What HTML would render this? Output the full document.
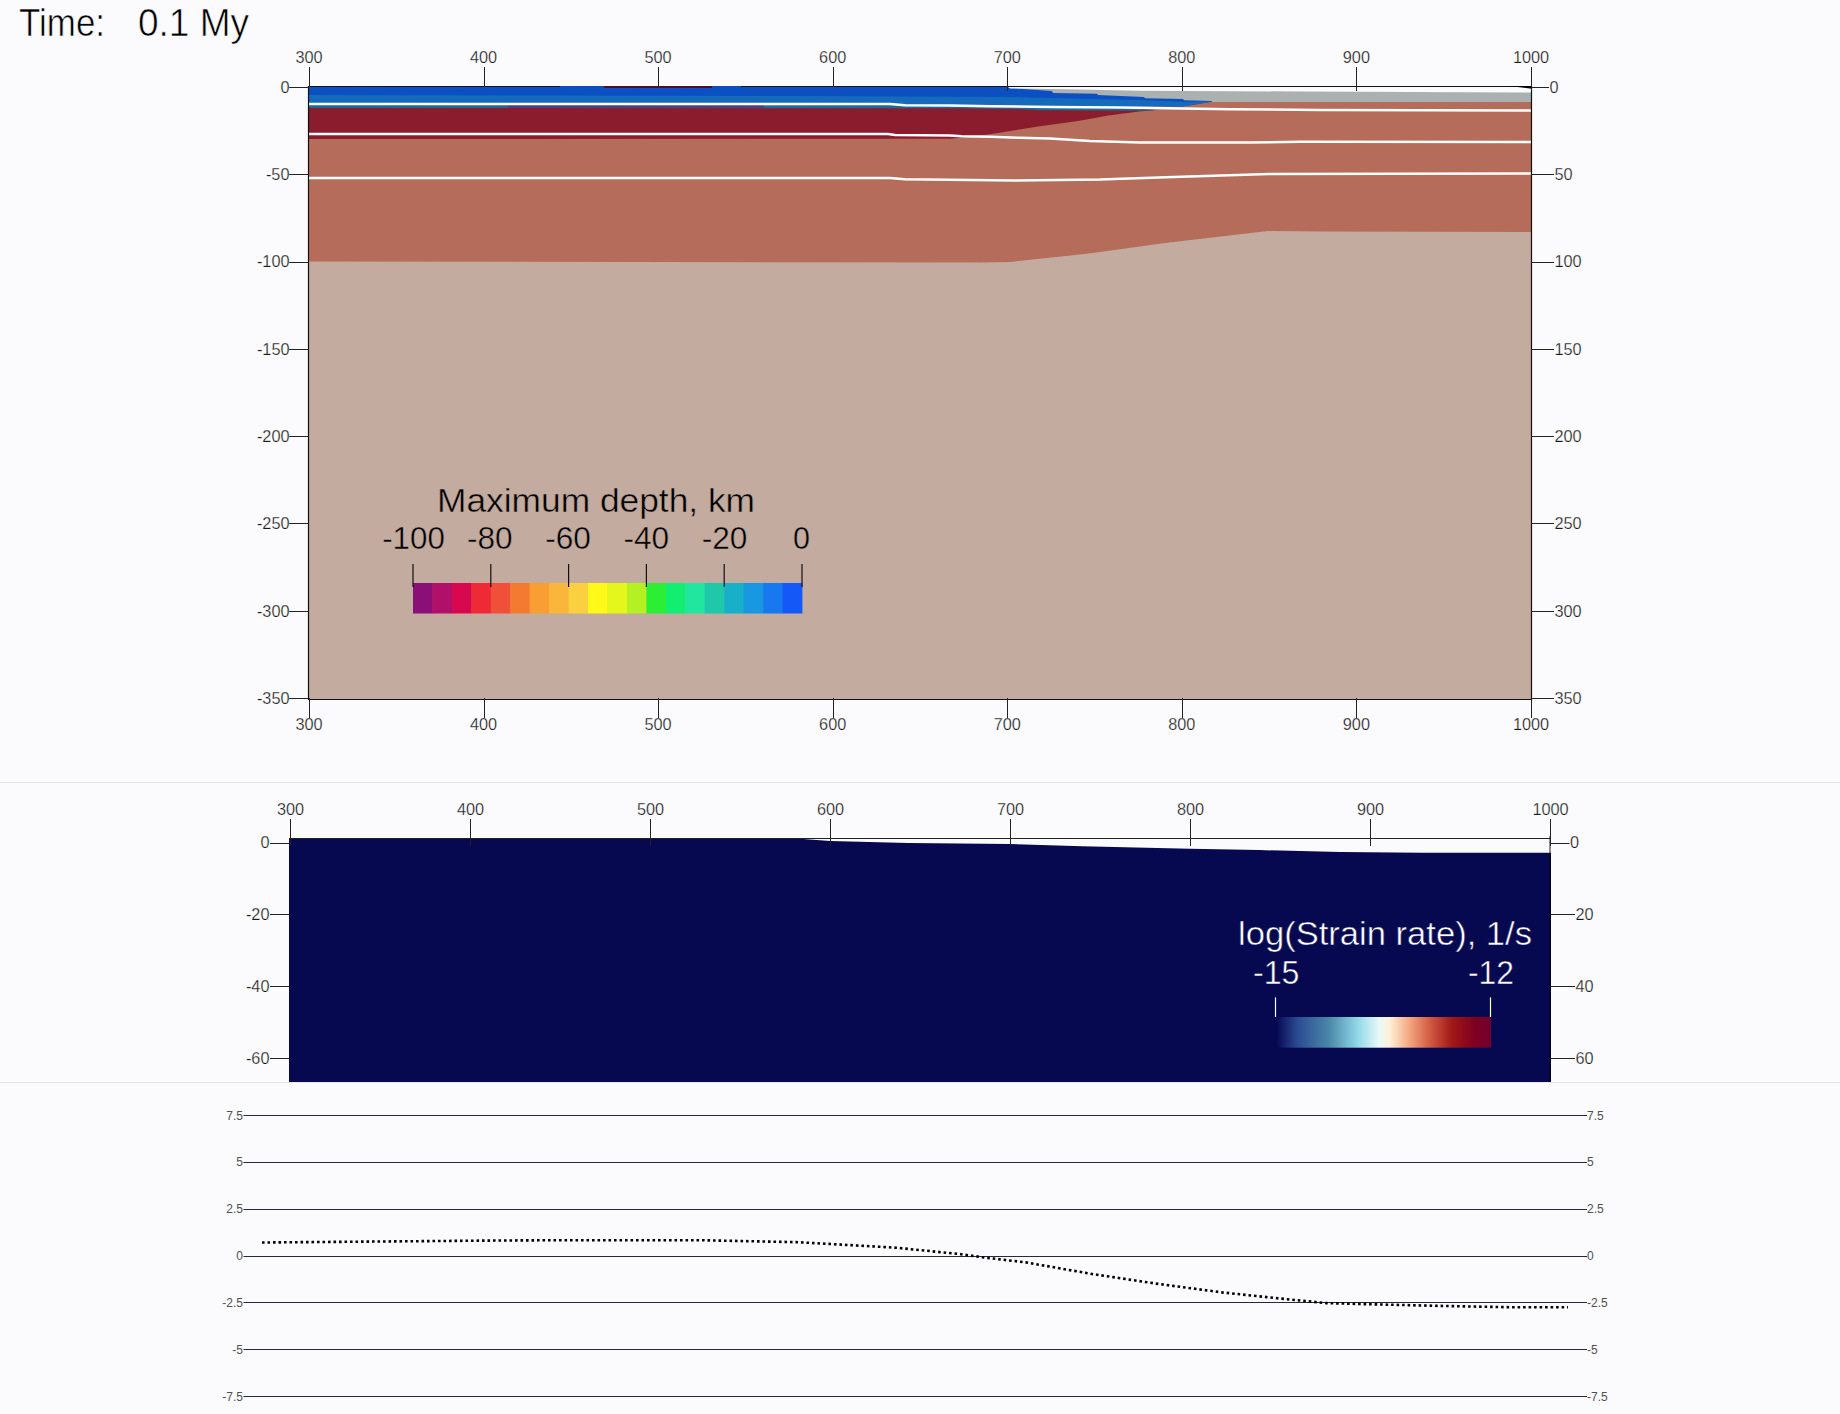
<!DOCTYPE html>
<html><head><meta charset="utf-8"><title>Time 0.1 My</title>
<style>html,body{margin:0;padding:0;background:#fbfbfd;width:1840px;height:1414px;overflow:hidden;position:relative}</style>
</head><body>
<svg width="1840" height="1414" viewBox="0 0 1840 1414" style="position:absolute;left:0;top:0;font-family:'Liberation Sans', sans-serif">
<rect x="0" y="0" width="1840" height="1414" fill="#fbfbfd"/>
<rect x="0" y="782" width="1840" height="1" fill="#e6e6e2"/>
<rect x="0" y="1082" width="1840" height="1" fill="#e6e6e2"/>
<text x="19" y="36.3" font-size="38" fill="#000" stroke="#fbfbfd" stroke-width="0.6" textLength="86" lengthAdjust="spacingAndGlyphs">Time:</text>
<text x="138" y="36.3" font-size="38" fill="#000" stroke="#fbfbfd" stroke-width="0.6" textLength="111" lengthAdjust="spacingAndGlyphs">0.1 My</text>
<rect x="309" y="87" width="1222" height="612" fill="#c3ab9f"/>
<polygon points="309.0,87.0 1531.0,87.0 1531.0,232.0 1320.0,231.5 1268.0,231.1 1165.0,243.1 1091.0,253.3 1010.0,262.0 980.0,262.5 309.0,261.5" fill="#b56c5a"/>
<polygon points="309.0,105.0 1090.0,107.0 1140.0,108.5 1156.0,110.0 1139.0,111.4 1108.5,115.5 1078.0,120.9 1040.0,126.2 990.0,134.3 973.0,136.3 951.0,138.8 309.0,139.0" fill="#8a1c2e"/>
<polygon points="1006.0,87.0 1531.0,87.0 1531.0,102.0 1212.0,102.0 1100.0,106.0 1010.0,106.0" fill="#abb0b1"/>
<polygon points="309.0,87.0 1008.0,87.0 1010.0,88.0 1052.0,91.0 1053.0,93.0 1097.0,93.7 1098.0,95.0 1144.0,97.0 1145.0,98.3 1183.0,98.9 1184.0,100.2 1212.0,100.9 1212.0,101.8 1183.0,106.6 1140.0,106.2 1090.0,107.0 1051.0,107.0 978.0,106.0 309.0,104.0" fill="#0a50c2"/>
<polygon points="309.0,95.0 800.0,96.0 1000.0,97.0 1052.0,98.0 1140.0,100.0 1184.0,102.0 1212.0,101.5 1183.0,106.6 1140.0,106.2 1090.0,107.0 1051.0,107.0 978.0,106.0 309.0,104.0" fill="#166abc"/>
<polygon points="309.0,105.0 978.0,106.0 1051.0,107.5 1090.0,107.8 1140.0,108.9 1162.0,109.8 1140.0,110.8 1040.0,110.2 1017.0,108.9 950.0,108.2 309.0,108.0" fill="#1a6a96"/>
<rect x="508" y="105.2" width="256" height="2.8" fill="#4a3f80"/>
<rect x="604" y="86" width="108" height="2" fill="#5a0a20"/>
<polyline points="309.0,103.9 890.0,104.0 905.0,105.2 950.0,105.5 990.0,106.3 1051.0,107.0 1120.0,107.6 1230.0,109.3 1320.0,109.9 1531.0,110.5" fill="none" stroke="#ffffff" stroke-width="2.5"/>
<polyline points="309.0,134.0 888.0,134.1 895.0,135.1 950.0,135.4 962.0,136.2 990.0,136.7 1020.0,137.8 1050.0,138.6 1090.0,141.0 1140.0,142.4 1250.0,142.4 1300.0,141.8 1531.0,142.0" fill="none" stroke="#ffffff" stroke-width="2.5"/>
<polyline points="309.0,177.9 890.0,178.1 905.0,179.2 1014.0,180.5 1100.0,179.5 1166.0,177.2 1269.0,174.1 1531.0,173.6" fill="none" stroke="#ffffff" stroke-width="2.5"/>
<polygon points="1007.0,86.0 1010.0,88.5 1051.0,89.0 1140.0,90.8 1300.0,91.5 1532.0,92.5 1532.0,86.0" fill="#fbfbfd"/>
<line x1="309" y1="86.5" x2="560" y2="86.5" stroke="#111" stroke-width="1.2"/>
<line x1="741" y1="86.5" x2="1532" y2="86.5" stroke="#111" stroke-width="1.2"/>
<rect x="560" y="86" width="44" height="1" fill="#0a4eb4"/>
<rect x="712" y="86" width="29" height="1" fill="#0a4eb4"/>
<line x1="309" y1="699.5" x2="1532" y2="699.5" stroke="#111" stroke-width="1.2"/>
<line x1="308.5" y1="86" x2="308.5" y2="700" stroke="#111" stroke-width="1.2"/>
<line x1="1531.5" y1="86" x2="1531.5" y2="700" stroke="#111" stroke-width="1.2"/>
<polygon points="1509,86 1532,86 1532,88.8" fill="#000"/>
<line x1="309.5" y1="67" x2="309.5" y2="87" stroke="#222" stroke-width="1"/>
<text x="309.0" y="62.8" font-size="16.3" fill="#181818" stroke="#fbfbfd" stroke-width="0.25" text-anchor="middle">300</text>
<line x1="309.5" y1="698" x2="309.5" y2="718" stroke="#222" stroke-width="1"/>
<text x="309.0" y="730" font-size="16.3" fill="#181818" stroke="#fbfbfd" stroke-width="0.25" text-anchor="middle">300</text>
<line x1="484.5" y1="67" x2="484.5" y2="87" stroke="#222" stroke-width="1"/>
<text x="483.6" y="62.8" font-size="16.3" fill="#181818" stroke="#fbfbfd" stroke-width="0.25" text-anchor="middle">400</text>
<line x1="484.5" y1="698" x2="484.5" y2="718" stroke="#222" stroke-width="1"/>
<text x="483.6" y="730" font-size="16.3" fill="#181818" stroke="#fbfbfd" stroke-width="0.25" text-anchor="middle">400</text>
<line x1="658.5" y1="67" x2="658.5" y2="87" stroke="#222" stroke-width="1"/>
<text x="658.1" y="62.8" font-size="16.3" fill="#181818" stroke="#fbfbfd" stroke-width="0.25" text-anchor="middle">500</text>
<line x1="658.5" y1="698" x2="658.5" y2="718" stroke="#222" stroke-width="1"/>
<text x="658.1" y="730" font-size="16.3" fill="#181818" stroke="#fbfbfd" stroke-width="0.25" text-anchor="middle">500</text>
<line x1="833.5" y1="67" x2="833.5" y2="87" stroke="#222" stroke-width="1"/>
<text x="832.7" y="62.8" font-size="16.3" fill="#181818" stroke="#fbfbfd" stroke-width="0.25" text-anchor="middle">600</text>
<line x1="833.5" y1="698" x2="833.5" y2="718" stroke="#222" stroke-width="1"/>
<text x="832.7" y="730" font-size="16.3" fill="#181818" stroke="#fbfbfd" stroke-width="0.25" text-anchor="middle">600</text>
<line x1="1007.5" y1="67" x2="1007.5" y2="91" stroke="#222" stroke-width="1"/>
<text x="1007.3" y="62.8" font-size="16.3" fill="#181818" stroke="#fbfbfd" stroke-width="0.25" text-anchor="middle">700</text>
<line x1="1007.5" y1="698" x2="1007.5" y2="718" stroke="#222" stroke-width="1"/>
<text x="1007.3" y="730" font-size="16.3" fill="#181818" stroke="#fbfbfd" stroke-width="0.25" text-anchor="middle">700</text>
<line x1="1182.5" y1="67" x2="1182.5" y2="91" stroke="#222" stroke-width="1"/>
<text x="1181.8" y="62.8" font-size="16.3" fill="#181818" stroke="#fbfbfd" stroke-width="0.25" text-anchor="middle">800</text>
<line x1="1182.5" y1="698" x2="1182.5" y2="718" stroke="#222" stroke-width="1"/>
<text x="1181.8" y="730" font-size="16.3" fill="#181818" stroke="#fbfbfd" stroke-width="0.25" text-anchor="middle">800</text>
<line x1="1356.5" y1="67" x2="1356.5" y2="91" stroke="#222" stroke-width="1"/>
<text x="1356.4" y="62.8" font-size="16.3" fill="#181818" stroke="#fbfbfd" stroke-width="0.25" text-anchor="middle">900</text>
<line x1="1356.5" y1="698" x2="1356.5" y2="718" stroke="#222" stroke-width="1"/>
<text x="1356.4" y="730" font-size="16.3" fill="#181818" stroke="#fbfbfd" stroke-width="0.25" text-anchor="middle">900</text>
<line x1="1531.5" y1="67" x2="1531.5" y2="91" stroke="#222" stroke-width="1"/>
<text x="1531.0" y="62.8" font-size="16.3" fill="#181818" stroke="#fbfbfd" stroke-width="0.25" text-anchor="middle">1000</text>
<line x1="1531.5" y1="698" x2="1531.5" y2="718" stroke="#222" stroke-width="1"/>
<text x="1531.0" y="730" font-size="16.3" fill="#181818" stroke="#fbfbfd" stroke-width="0.25" text-anchor="middle">1000</text>
<line x1="289" y1="87.5" x2="309" y2="87.5" stroke="#222" stroke-width="1"/>
<text x="289.5" y="92.8" font-size="16.3" fill="#181818" stroke="#fbfbfd" stroke-width="0.25" text-anchor="end">0</text>
<line x1="1531" y1="87.5" x2="1549" y2="87.5" stroke="#222" stroke-width="1"/>
<text x="1549.5" y="92.8" font-size="16.3" fill="#181818" stroke="#fbfbfd" stroke-width="0.25">0</text>
<line x1="289" y1="174.5" x2="309" y2="174.5" stroke="#222" stroke-width="1"/>
<text x="289.5" y="180.1" font-size="16.3" fill="#181818" stroke="#fbfbfd" stroke-width="0.25" text-anchor="end">-50</text>
<line x1="1531" y1="174.5" x2="1554" y2="174.5" stroke="#222" stroke-width="1"/>
<text x="1554.5" y="180.1" font-size="16.3" fill="#181818" stroke="#fbfbfd" stroke-width="0.25">50</text>
<line x1="289" y1="262.5" x2="309" y2="262.5" stroke="#222" stroke-width="1"/>
<text x="289.5" y="267.4" font-size="16.3" fill="#181818" stroke="#fbfbfd" stroke-width="0.25" text-anchor="end">-100</text>
<line x1="1531" y1="262.5" x2="1554" y2="262.5" stroke="#222" stroke-width="1"/>
<text x="1554.5" y="267.4" font-size="16.3" fill="#181818" stroke="#fbfbfd" stroke-width="0.25">100</text>
<line x1="289" y1="349.5" x2="309" y2="349.5" stroke="#222" stroke-width="1"/>
<text x="289.5" y="354.7" font-size="16.3" fill="#181818" stroke="#fbfbfd" stroke-width="0.25" text-anchor="end">-150</text>
<line x1="1531" y1="349.5" x2="1554" y2="349.5" stroke="#222" stroke-width="1"/>
<text x="1554.5" y="354.7" font-size="16.3" fill="#181818" stroke="#fbfbfd" stroke-width="0.25">150</text>
<line x1="289" y1="436.5" x2="309" y2="436.5" stroke="#222" stroke-width="1"/>
<text x="289.5" y="441.9" font-size="16.3" fill="#181818" stroke="#fbfbfd" stroke-width="0.25" text-anchor="end">-200</text>
<line x1="1531" y1="436.5" x2="1554" y2="436.5" stroke="#222" stroke-width="1"/>
<text x="1554.5" y="441.9" font-size="16.3" fill="#181818" stroke="#fbfbfd" stroke-width="0.25">200</text>
<line x1="289" y1="523.5" x2="309" y2="523.5" stroke="#222" stroke-width="1"/>
<text x="289.5" y="529.2" font-size="16.3" fill="#181818" stroke="#fbfbfd" stroke-width="0.25" text-anchor="end">-250</text>
<line x1="1531" y1="523.5" x2="1554" y2="523.5" stroke="#222" stroke-width="1"/>
<text x="1554.5" y="529.2" font-size="16.3" fill="#181818" stroke="#fbfbfd" stroke-width="0.25">250</text>
<line x1="289" y1="611.5" x2="309" y2="611.5" stroke="#222" stroke-width="1"/>
<text x="289.5" y="616.5" font-size="16.3" fill="#181818" stroke="#fbfbfd" stroke-width="0.25" text-anchor="end">-300</text>
<line x1="1531" y1="611.5" x2="1554" y2="611.5" stroke="#222" stroke-width="1"/>
<text x="1554.5" y="616.5" font-size="16.3" fill="#181818" stroke="#fbfbfd" stroke-width="0.25">300</text>
<line x1="289" y1="698.5" x2="309" y2="698.5" stroke="#222" stroke-width="1"/>
<text x="289.5" y="703.8" font-size="16.3" fill="#181818" stroke="#fbfbfd" stroke-width="0.25" text-anchor="end">-350</text>
<line x1="1531" y1="698.5" x2="1554" y2="698.5" stroke="#222" stroke-width="1"/>
<text x="1554.5" y="703.8" font-size="16.3" fill="#181818" stroke="#fbfbfd" stroke-width="0.25">350</text>
<rect x="413.00" y="583" width="19.85" height="30.5" fill="#8a1078"/>
<rect x="432.45" y="583" width="19.85" height="30.5" fill="#b0106a"/>
<rect x="451.90" y="583" width="19.85" height="30.5" fill="#d8084e"/>
<rect x="471.35" y="583" width="19.85" height="30.5" fill="#ee2a36"/>
<rect x="490.80" y="583" width="19.85" height="30.5" fill="#f05038"/>
<rect x="510.25" y="583" width="19.85" height="30.5" fill="#f47a32"/>
<rect x="529.70" y="583" width="19.85" height="30.5" fill="#f89e32"/>
<rect x="549.15" y="583" width="19.85" height="30.5" fill="#fab63a"/>
<rect x="568.60" y="583" width="19.85" height="30.5" fill="#fbd040"/>
<rect x="588.05" y="583" width="19.85" height="30.5" fill="#fff818"/>
<rect x="607.50" y="583" width="19.85" height="30.5" fill="#e4f61c"/>
<rect x="626.95" y="583" width="19.85" height="30.5" fill="#b4f024"/>
<rect x="646.40" y="583" width="19.85" height="30.5" fill="#2cee34"/>
<rect x="665.85" y="583" width="19.85" height="30.5" fill="#12ee72"/>
<rect x="685.30" y="583" width="19.85" height="30.5" fill="#20e6a0"/>
<rect x="704.75" y="583" width="19.85" height="30.5" fill="#20c8aa"/>
<rect x="724.20" y="583" width="19.85" height="30.5" fill="#18b0c8"/>
<rect x="743.65" y="583" width="19.85" height="30.5" fill="#1898e0"/>
<rect x="763.10" y="583" width="19.85" height="30.5" fill="#1878f0"/>
<rect x="782.55" y="583" width="19.85" height="30.5" fill="#1458f8"/>
<line x1="413.0" y1="564" x2="413.0" y2="587" stroke="#111" stroke-width="1.2"/>
<line x1="490.8" y1="564" x2="490.8" y2="587" stroke="#111" stroke-width="1.2"/>
<line x1="568.6" y1="564" x2="568.6" y2="587" stroke="#111" stroke-width="1.2"/>
<line x1="646.4" y1="564" x2="646.4" y2="587" stroke="#111" stroke-width="1.2"/>
<line x1="724.2" y1="564" x2="724.2" y2="587" stroke="#111" stroke-width="1.2"/>
<line x1="802.0" y1="564" x2="802.0" y2="587" stroke="#111" stroke-width="1.2"/>
<text x="437" y="511.5" font-size="32.5" fill="#000" stroke="#c3ab9f" stroke-width="0.45" textLength="318" lengthAdjust="spacingAndGlyphs">Maximum depth, km</text>
<text x="382.2" y="549" font-size="31.5" fill="#000" stroke="#c3ab9f" stroke-width="0.45" textLength="62.6" lengthAdjust="spacingAndGlyphs">-100</text>
<text x="467" y="549" font-size="31.5" fill="#000" stroke="#c3ab9f" stroke-width="0.45" textLength="45.6" lengthAdjust="spacingAndGlyphs">-80</text>
<text x="545.2" y="549" font-size="31.5" fill="#000" stroke="#c3ab9f" stroke-width="0.45" textLength="45.7" lengthAdjust="spacingAndGlyphs">-60</text>
<text x="623.5" y="549" font-size="31.5" fill="#000" stroke="#c3ab9f" stroke-width="0.45" textLength="45.7" lengthAdjust="spacingAndGlyphs">-40</text>
<text x="701.8" y="549" font-size="31.5" fill="#000" stroke="#c3ab9f" stroke-width="0.45" textLength="45.6" lengthAdjust="spacingAndGlyphs">-20</text>
<text x="793" y="549" font-size="31.5" fill="#000" stroke="#c3ab9f" stroke-width="0.45" textLength="17.0" lengthAdjust="spacingAndGlyphs">0</text>
<polygon points="289.0,838.8 800.0,838.8 830.0,841.0 908.0,843.0 1009.0,844.0 1082.0,846.2 1190.0,848.8 1259.0,850.1 1340.0,852.0 1422.0,852.8 1551.0,852.8 1551.0,1082.0 289.0,1082.0" fill="#060850"/>
<line x1="289" y1="838.5" x2="1551" y2="838.5" stroke="#222" stroke-width="1.2"/>
<rect x="1549.5" y="836" width="1" height="17" fill="#222"/>
<rect x="1549.5" y="853" width="1.3" height="229" fill="#000010"/>
<line x1="290.5" y1="819" x2="290.5" y2="846" stroke="#222" stroke-width="1"/>
<text x="290.5" y="815" font-size="16.3" fill="#181818" stroke="#fbfbfd" stroke-width="0.25" text-anchor="middle">300</text>
<line x1="470.5" y1="819" x2="470.5" y2="846" stroke="#222" stroke-width="1"/>
<text x="470.5" y="815" font-size="16.3" fill="#181818" stroke="#fbfbfd" stroke-width="0.25" text-anchor="middle">400</text>
<line x1="650.5" y1="819" x2="650.5" y2="846" stroke="#222" stroke-width="1"/>
<text x="650.5" y="815" font-size="16.3" fill="#181818" stroke="#fbfbfd" stroke-width="0.25" text-anchor="middle">500</text>
<line x1="830.5" y1="819" x2="830.5" y2="846" stroke="#222" stroke-width="1"/>
<text x="830.5" y="815" font-size="16.3" fill="#181818" stroke="#fbfbfd" stroke-width="0.25" text-anchor="middle">600</text>
<line x1="1010.5" y1="819" x2="1010.5" y2="846" stroke="#222" stroke-width="1"/>
<text x="1010.5" y="815" font-size="16.3" fill="#181818" stroke="#fbfbfd" stroke-width="0.25" text-anchor="middle">700</text>
<line x1="1190.5" y1="819" x2="1190.5" y2="846" stroke="#222" stroke-width="1"/>
<text x="1190.5" y="815" font-size="16.3" fill="#181818" stroke="#fbfbfd" stroke-width="0.25" text-anchor="middle">800</text>
<line x1="1370.5" y1="819" x2="1370.5" y2="846" stroke="#222" stroke-width="1"/>
<text x="1370.5" y="815" font-size="16.3" fill="#181818" stroke="#fbfbfd" stroke-width="0.25" text-anchor="middle">900</text>
<line x1="1550.5" y1="819" x2="1550.5" y2="846" stroke="#222" stroke-width="1"/>
<text x="1550.5" y="815" font-size="16.3" fill="#181818" stroke="#fbfbfd" stroke-width="0.25" text-anchor="middle">1000</text>
<line x1="270" y1="843.5" x2="289" y2="843.5" stroke="#222" stroke-width="1"/>
<text x="269.5" y="848.4" font-size="16.3" fill="#181818" stroke="#fbfbfd" stroke-width="0.25" text-anchor="end">0</text>
<line x1="1551" y1="843.5" x2="1569.5" y2="843.5" stroke="#222" stroke-width="1"/>
<text x="1570.0" y="848.4" font-size="16.3" fill="#181818" stroke="#fbfbfd" stroke-width="0.25">0</text>
<line x1="270" y1="914.5" x2="289" y2="914.5" stroke="#222" stroke-width="1"/>
<text x="269.5" y="920.1" font-size="16.3" fill="#181818" stroke="#fbfbfd" stroke-width="0.25" text-anchor="end">-20</text>
<line x1="1551" y1="914.5" x2="1575" y2="914.5" stroke="#222" stroke-width="1"/>
<text x="1575.5" y="920.1" font-size="16.3" fill="#181818" stroke="#fbfbfd" stroke-width="0.25">20</text>
<line x1="270" y1="986.5" x2="289" y2="986.5" stroke="#222" stroke-width="1"/>
<text x="269.5" y="991.8" font-size="16.3" fill="#181818" stroke="#fbfbfd" stroke-width="0.25" text-anchor="end">-40</text>
<line x1="1551" y1="986.5" x2="1575" y2="986.5" stroke="#222" stroke-width="1"/>
<text x="1575.5" y="991.8" font-size="16.3" fill="#181818" stroke="#fbfbfd" stroke-width="0.25">40</text>
<line x1="270" y1="1058.5" x2="289" y2="1058.5" stroke="#222" stroke-width="1"/>
<text x="269.5" y="1063.5" font-size="16.3" fill="#181818" stroke="#fbfbfd" stroke-width="0.25" text-anchor="end">-60</text>
<line x1="1551" y1="1058.5" x2="1575" y2="1058.5" stroke="#222" stroke-width="1"/>
<text x="1575.5" y="1063.5" font-size="16.3" fill="#181818" stroke="#fbfbfd" stroke-width="0.25">60</text>
<defs><linearGradient id="rdbu" x1="0" x2="1" y1="0" y2="0"><stop offset="0" stop-color="#050550"/><stop offset="0.1" stop-color="#2a4a90"/><stop offset="0.25" stop-color="#4a88a8"/><stop offset="0.38" stop-color="#90d8e8"/><stop offset="0.48" stop-color="#e8f8f8"/><stop offset="0.53" stop-color="#fff0d8"/><stop offset="0.62" stop-color="#f4a880"/><stop offset="0.72" stop-color="#d05840"/><stop offset="0.82" stop-color="#a01818"/><stop offset="0.92" stop-color="#800020"/><stop offset="1" stop-color="#700030"/></linearGradient></defs>
<rect x="1275.5" y="1017" width="215.5" height="30.7" fill="url(#rdbu)"/>
<line x1="1275.5" y1="997.4" x2="1275.5" y2="1017" stroke="#fff" stroke-width="1.2"/>
<line x1="1490.5" y1="997.4" x2="1490.5" y2="1017" stroke="#fff" stroke-width="1.2"/>
<text x="1238" y="944.7" font-size="33" fill="#fff" stroke="#060850" stroke-width="0.5" textLength="294" lengthAdjust="spacingAndGlyphs">log(Strain rate), 1/s</text>
<text x="1253" y="984.1" font-size="33" fill="#fff" stroke="#060850" stroke-width="0.5" textLength="46.5" lengthAdjust="spacingAndGlyphs">-15</text>
<text x="1468" y="984.1" font-size="33" fill="#fff" stroke="#060850" stroke-width="0.5" textLength="46" lengthAdjust="spacingAndGlyphs">-12</text>
<line x1="243.5" y1="1115.5" x2="1587" y2="1115.5" stroke="#282838" stroke-width="1"/>
<text x="243" y="1119.5" font-size="12" fill="#505050" text-anchor="end">7.5</text>
<text x="1587" y="1119.5" font-size="12" fill="#505050">7.5</text>
<line x1="243.5" y1="1162.5" x2="1587" y2="1162.5" stroke="#282838" stroke-width="1"/>
<text x="243" y="1166.3" font-size="12" fill="#505050" text-anchor="end">5</text>
<text x="1587" y="1166.3" font-size="12" fill="#505050">5</text>
<line x1="243.5" y1="1209.5" x2="1587" y2="1209.5" stroke="#282838" stroke-width="1"/>
<text x="243" y="1213.2" font-size="12" fill="#505050" text-anchor="end">2.5</text>
<text x="1587" y="1213.2" font-size="12" fill="#505050">2.5</text>
<line x1="243.5" y1="1256.5" x2="1587" y2="1256.5" stroke="#282838" stroke-width="1"/>
<text x="243" y="1260.1" font-size="12" fill="#505050" text-anchor="end">0</text>
<text x="1587" y="1260.1" font-size="12" fill="#505050">0</text>
<line x1="243.5" y1="1302.5" x2="1587" y2="1302.5" stroke="#282838" stroke-width="1"/>
<text x="243" y="1307.0" font-size="12" fill="#505050" text-anchor="end">-2.5</text>
<text x="1587" y="1307.0" font-size="12" fill="#505050">-2.5</text>
<line x1="243.5" y1="1349.5" x2="1587" y2="1349.5" stroke="#282838" stroke-width="1"/>
<text x="243" y="1353.8" font-size="12" fill="#505050" text-anchor="end">-5</text>
<text x="1587" y="1353.8" font-size="12" fill="#505050">-5</text>
<line x1="243.5" y1="1396.5" x2="1587" y2="1396.5" stroke="#282838" stroke-width="1"/>
<text x="243" y="1400.7" font-size="12" fill="#505050" text-anchor="end">-7.5</text>
<text x="1587" y="1400.7" font-size="12" fill="#505050">-7.5</text>
<polyline points="262.0,1242.5 380.0,1241.5 500.0,1240.5 560.0,1240.2 700.0,1240.2 798.0,1242.2 896.0,1247.7 961.0,1254.2 984.0,1257.5 1026.0,1262.4 1091.0,1273.8 1156.0,1283.6 1222.0,1292.4 1280.0,1298.5 1326.0,1303.1 1372.0,1304.3 1440.0,1305.9 1509.0,1307.2 1568.0,1307.2" fill="none" stroke="#000" stroke-width="2.6" stroke-dasharray="2.6 2.9"/>
</svg>
</body></html>
